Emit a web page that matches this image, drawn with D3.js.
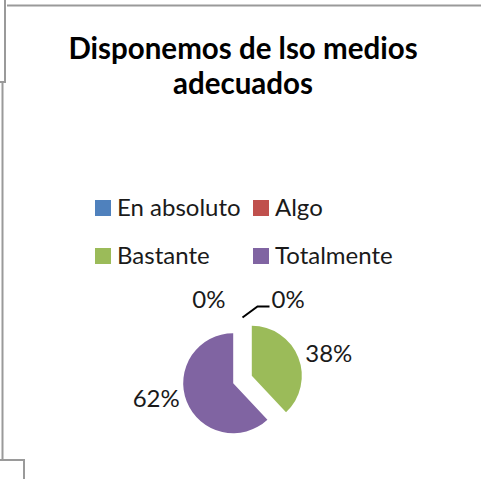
<!DOCTYPE html>
<meta charset="utf-8">
<style>
body { margin: 0; background: #fff; }
text { font-family: Lato, "Open Sans", sans-serif; fill: #000; }
.title { font-weight: bold; font-size: 29.5px; }
.legend text { font-size: 24px; fill: #1a1a1a; }
.label { font-size: 24px; fill: #1a1a1a; }
.frame { stroke: #9a9a9a; stroke-width: 2; fill: none; }
</style>
<svg width="481" height="479"></svg>
<script src="https://d3js.org/d3.v7.min.js"></script>
<script>

var categories = ["En absoluto", "Algo", "Bastante", "Totalmente"];
var values = [0, 0, 38, 62];
var colors = ["#4F81BD", "#C0504D", "#9BBB59", "#8064A2"];
var titleLines = ["Disponemos de lso medios", "adecuados"];

var svg = d3.select("svg");

// bits of the surrounding sheet frame
var frame = [
  [[7, 5.5], [481, 5.5]],
  [[5, 0], [5, 82], [0, 82]],
  [[2.5, 82], [2.5, 460], [0, 460]],
  [[0, 460], [24, 460], [24, 479]]
];
svg.selectAll("path.frame")
  .data(frame)
  .enter().append("path")
    .attr("class", "frame")
    .attr("d", d3.line());

// title
svg.append("text")
    .attr("class", "title")
    .attr("text-anchor", "middle")
  .selectAll("tspan")
  .data(titleLines)
  .enter().append("tspan")
    .attr("x", 243)
    .attr("y", function(d, i) { return 59 + i * 35; })
    .text(function(d) { return d; });

// legend, two columns
var legend = svg.append("g").attr("class", "legend")
  .selectAll("g")
  .data(categories)
  .enter().append("g")
    .attr("transform", function(d, i) {
      return "translate(" + (95 + (i % 2) * 158) + "," + (200 + Math.floor(i / 2) * 48) + ")";
    });

legend.append("rect")
    .attr("width", 16)
    .attr("height", 16)
    .attr("fill", function(d, i) { return colors[i]; });

legend.append("text")
    .attr("x", 22)
    .attr("y", 16)
    .text(function(d) { return d; });

// pie
var cx = 242.5, cy = 379.5, r = 50, explode = 10;
var total = d3.sum(values);

var pie = d3.pie().sort(null).value(function(d) { return d; });
var arcs = pie(values);
var arc = d3.arc().innerRadius(0).outerRadius(r);

var g = svg.append("g").attr("transform", "translate(" + cx + "," + cy + ")");

function dir(d) {
  var a = (d.startAngle + d.endAngle) / 2;
  return [Math.sin(a), -Math.cos(a)];
}

g.selectAll("path.slice")
  .data(arcs)
  .enter().append("path")
    .attr("class", "slice")
    .attr("fill", function(d, i) { return colors[i]; })
    .attr("transform", function(d) {
      var v = dir(d);
      return "translate(" + v[0] * explode + "," + v[1] * explode + ")";
    })
    .attr("d", arc);

// labels
var zeroCount = 0;
arcs.forEach(function(d, i) {
  var v = dir(d);
  var px = v[0] * (r + explode), py = v[1] * (r + explode);
  var pct = Math.round(values[i] / total * 100) + "%";
  var t = g.append("text").attr("class", "label").text(pct);
  if (values[i] === 0) {
    if (zeroCount === 0) {
      t.attr("x", px - 17).attr("y", py - 12).attr("text-anchor", "end");
    } else {
      g.append("path")
        .attr("d", d3.line()([[px, py - 2], [px + 15, py - 13], [px + 27, py - 13]]))
        .attr("stroke", "#000")
        .attr("stroke-width", 2)
        .attr("fill", "none");
      t.attr("x", px + 29).attr("y", py - 12).attr("text-anchor", "start");
    }
    zeroCount++;
  } else {
    t.attr("x", px + (v[0] > 0 ? 7 : -7))
      .attr("y", py + 5)
      .attr("text-anchor", v[0] > 0 ? "start" : "end");
  }
});

</script>
